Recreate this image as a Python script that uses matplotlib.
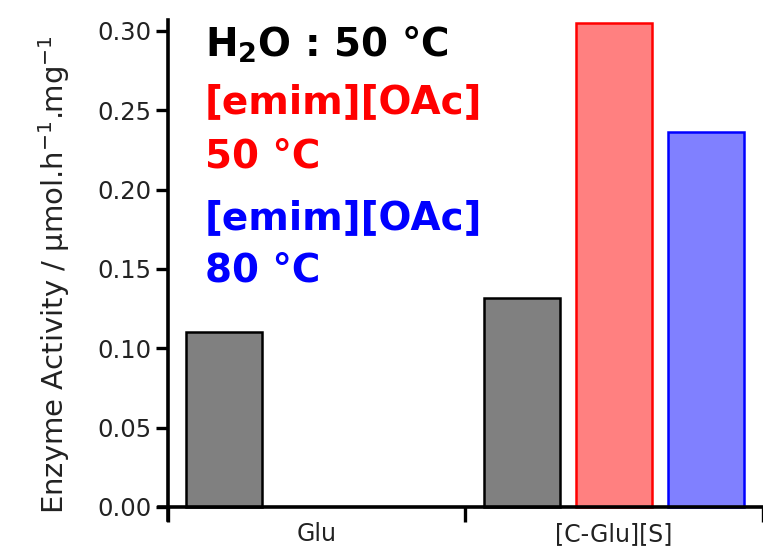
import matplotlib
matplotlib.use("Agg")
import matplotlib.pyplot as plt
import numpy as np

# Enzyme activity (µmol h^-1 mg^-1) per substrate and condition
categories = ["Glu", "[C-Glu][S]"]
water_50 = [0.110, 0.132]
il_50 = [0.0, 0.305]
il_80 = [0.0, 0.236]
yticks = [0.00, 0.05, 0.10, 0.15, 0.20, 0.25, 0.30]

plt.rcParams["font.family"] = ["DejaVu Sans"]

fig = plt.figure(figsize=(7.63, 5.52), dpi=100)
W, H = 763, 552
x0, x1 = -0.53, 1.47
y0, y1 = -0.008, 0.307
ppu_x = 302.0
ppu_y = 1587.0
left_px = 168 - (-0.5 - x0) * ppu_x
bottom_px = 45 + y0 * ppu_y
ax = fig.add_axes([left_px / W, bottom_px / H,
                   (x1 - x0) * ppu_x / W, (y1 - y0) * ppu_y / H])

x = np.arange(len(categories))
width = 0.255
offset = 0.31


def edges(values, color):
    return [color if v > 0 else "none" for v in values]


ax.bar(x - offset, water_50, width, color="#808080",
       edgecolor=edges(water_50, "black"), linewidth=1.8)
ax.bar(x + 0.0, il_50, width, color="#ff8080",
       edgecolor=edges(il_50, "#ff0000"), linewidth=1.8)
ax.bar(x + offset, il_80, width, color="#8080ff",
       edgecolor=edges(il_80, "#0000ff"), linewidth=1.8)

ax.set_xlim(x0, x1)
ax.set_ylim(y0, y1)
for s in ["top", "right"]:
    ax.spines[s].set_visible(False)
ax.spines["left"].set_position(("data", -0.5))
ax.spines["bottom"].set_position(("data", 0))
ax.spines["left"].set_linewidth(2.6)
ax.spines["bottom"].set_linewidth(2.6)
ax.spines["left"].set_bounds(y0, 0.307)

ax.set_yticks(yticks)
ax.set_yticklabels([f"{v:.2f}" for v in yticks])
ax.tick_params(axis="y", direction="out", length=9, width=2.4, labelsize=17.5,
               labelcolor="#222222", pad=3)

ax.set_xticks([-0.5, 0.5, 1.5])
ax.set_xticklabels(["", "", ""])
ax.tick_params(axis="x", which="major", direction="out", length=11, width=2.4)
ax.set_xticks(x, minor=True)
ax.set_xticklabels(categories, minor=True)
ax.tick_params(axis="x", which="minor", length=0, labelsize=17,
               labelcolor="#222222", pad=11)

ax.set_ylabel("Enzyme Activity / µmol.h$^{-1}$.mg$^{-1}$", fontsize=21,
              color="#222222")
ax.yaxis.label.set_va("center")
ax.yaxis.set_label_coords((54 - left_px) / ((x1 - x0) * ppu_x),
                          ((H - 275) - bottom_px) / ((y1 - y0) * ppu_y))

fs = 28
ax.text(205 / W, 1 - 57 / H, "H$_\\mathbf{2}$O : 50 °C", transform=fig.transFigure,
        fontsize=fs, fontweight="bold", color="black", va="baseline")
ax.text(205 / W, 1 - 113 / H, "[emim][OAc]", transform=fig.transFigure,
        fontsize=fs, fontweight="bold", color="#ff0000", va="baseline")
ax.text(205 / W, 1 - 167 / H, "50 °C", transform=fig.transFigure,
        fontsize=fs, fontweight="bold", color="#ff0000", va="baseline")
ax.text(205 / W, 1 - 229 / H, "[emim][OAc]", transform=fig.transFigure,
        fontsize=fs, fontweight="bold", color="#0000ff", va="baseline")
ax.text(205 / W, 1 - 281 / H, "80 °C", transform=fig.transFigure,
        fontsize=fs, fontweight="bold", color="#0000ff", va="baseline")

fig.savefig("out.png", dpi=100)
